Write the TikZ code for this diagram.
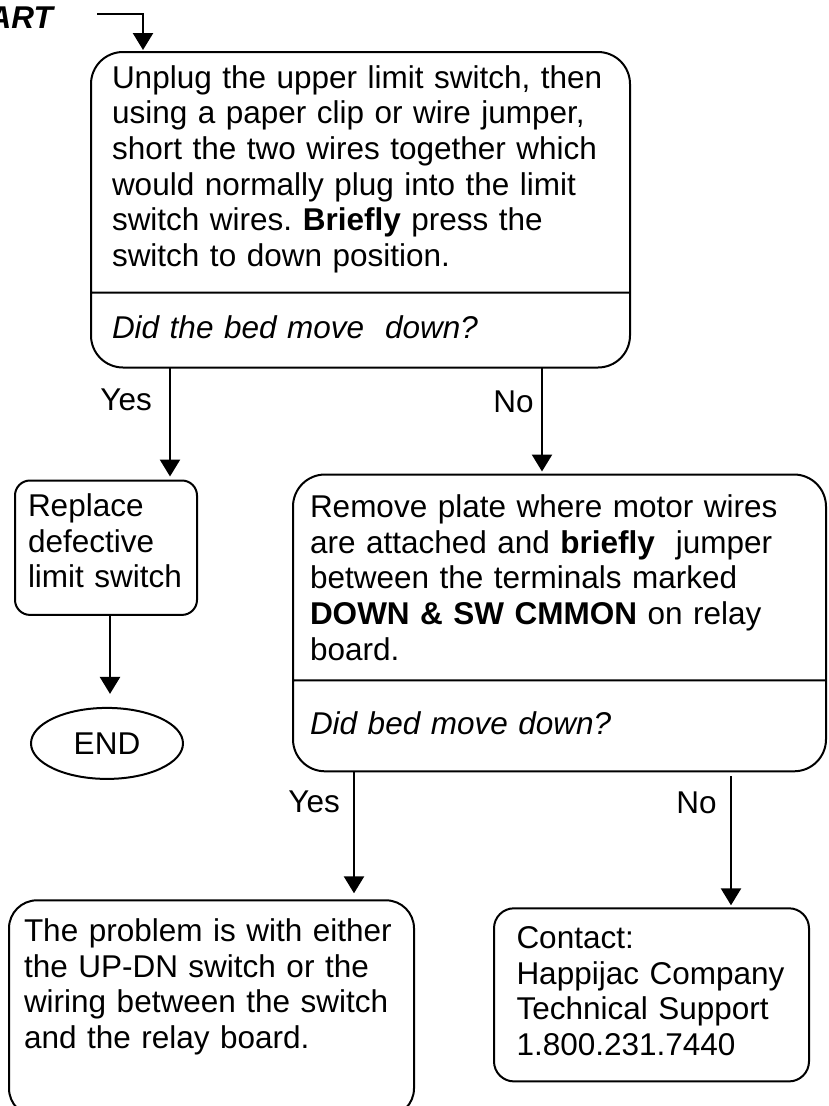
\documentclass[tikz,border=0pt]{standalone}
\usepackage{fontspec}
\setmainfont{Liberation Sans}
\usepackage{tikz}
\usetikzlibrary{shapes.geometric, shapes.multipart, arrows.meta, positioning}
\frenchspacing
\hyphenpenalty=10000
\newcommand{\upgap}[1]{\rule{0pt}{#1}}
\newcommand{\downgap}[1]{\rule[-#1]{0pt}{#1}}
\tikzstyle{question} = [rectangle split, rectangle split parts=2, rounded corners=32pt, draw=black, line width=2pt, inner ysep=0pt, outer sep=0pt, align=left]
\tikzstyle{process} = [rectangle, rounded corners=15pt, draw=black, line width=2pt, inner ysep=0pt, outer sep=0pt, align=left]
\tikzstyle{terminal} = [ellipse, draw=black, line width=2pt, minimum width=152pt, minimum height=71pt, inner sep=0pt, outer sep=0pt]
\tikzstyle{title} = [inner sep=0pt, font=\fontsize{31.5}{35.7}\selectfont\bfseries\itshape]
\tikzstyle{lbl} = [inner sep=0pt]
\tikzstyle{arrow} = [line width=2.5pt, -{Triangle[width=20pt,length=17pt]}]

\begin{document}
\begin{tikzpicture}[x=1pt, y=1pt, font=\fontsize{31.5}{35.7}\selectfont]
    	\useasboundingbox (0,0) rectangle (828,-1106);
    	\clip (0,0) rectangle (828,-1106);
    	
    	\node (start) [title, anchor=base east] at (53,-28) {START};
    	\coordinate (startout) at (97,-14);
    	\node (q1) [question, text width=497pt, inner xsep=21pt, anchor=north west] at (91,-52) {\upgap{35pt}Unplug the upper limit switch, then\\ using a paper clip or wire jumper,\\ short the two wires together which\\ would normally plug into the limit\\ switch wires. \textbf{Briefly} press the\\ switch to down position.\downgap{25pt}\nodepart{two}\upgap{45pt}\textit{Did the bed move\ \ down?}\downgap{28pt}};
    	\node (fix) [process, text width=156pt, inner xsep=13pt, below=113pt of q1.south west, xshift=15pt] {\upgap{36pt}Replace\\ defective\\ limit switch\downgap{27pt}};
    	\node (end) [terminal, below=93pt of fix.south, xshift=1pt] {END};
    	\node (act) [question, text width=499pt, inner xsep=17pt, below=107pt of q1.south east, xshift=-70.5pt] {\upgap{42pt}Remove plate where motor wires\\ are attached and \textbf{briefly}\ \ jumper\\ between the terminals marked\\ \textbf{DOWN \& SW CMMON} on relay\\ board.\downgap{19pt}\nodepart{two}\upgap{53pt}\textit{Did bed move down?}\downgap{36pt}};
    	\node (prob) [process, rounded corners=28pt, text width=375pt, inner xsep=15pt, below=129pt of act.south west, xshift=-81.5pt] {\upgap{41pt}The problem is with either\\ the UP-DN switch or the\\ wiring between the switch\\ and the relay board.\downgap{68pt}};
    	\node (cont) [process, rounded corners=20pt, text width=270pt, inner xsep=22.5pt, below=137pt of act.south east, xshift=-174.5pt] {\upgap{40pt}Contact:\\ Happijac Company\\ Technical Support\\ 1.800.231.7440\downgap{26pt}};
    	
    	\coordinate (q1yes) at ([xshift=79pt]q1.south west);
    	\coordinate (q1no) at ([xshift=-88pt]q1.south east);
    	\coordinate (actyes) at ([xshift=61pt]act.south west);
    	\coordinate (actno) at ([xshift=-95pt]act.south east);
    	
    	\draw [arrow, shorten >=2pt] (startout) -| ([xshift=52pt]q1.north west);
    	\draw [arrow, shorten >=4pt] (q1yes) -- node[lbl, pos=.29, left=17pt] {Yes} (q1yes |- fix.north);
    	\draw [arrow, shorten >=3pt] (q1no) -- node[lbl, pos=.32, left=7pt] {No} (q1no |- act.north);
    	\draw [arrow, shorten >=14pt] ([xshift=4pt]fix.south) -- ([xshift=3pt]end.north);
    	\draw [arrow, shorten >=7pt] (actyes) -- node[lbl, pos=.24, left=13pt] {Yes} (actyes |- prob.north);
    	\draw [arrow, shorten <=5pt, shorten >=3pt] (actno) -- node[lbl, pos=.23, left=13pt] {No} (actno |- cont.north);
\end{tikzpicture}
\end{document}
